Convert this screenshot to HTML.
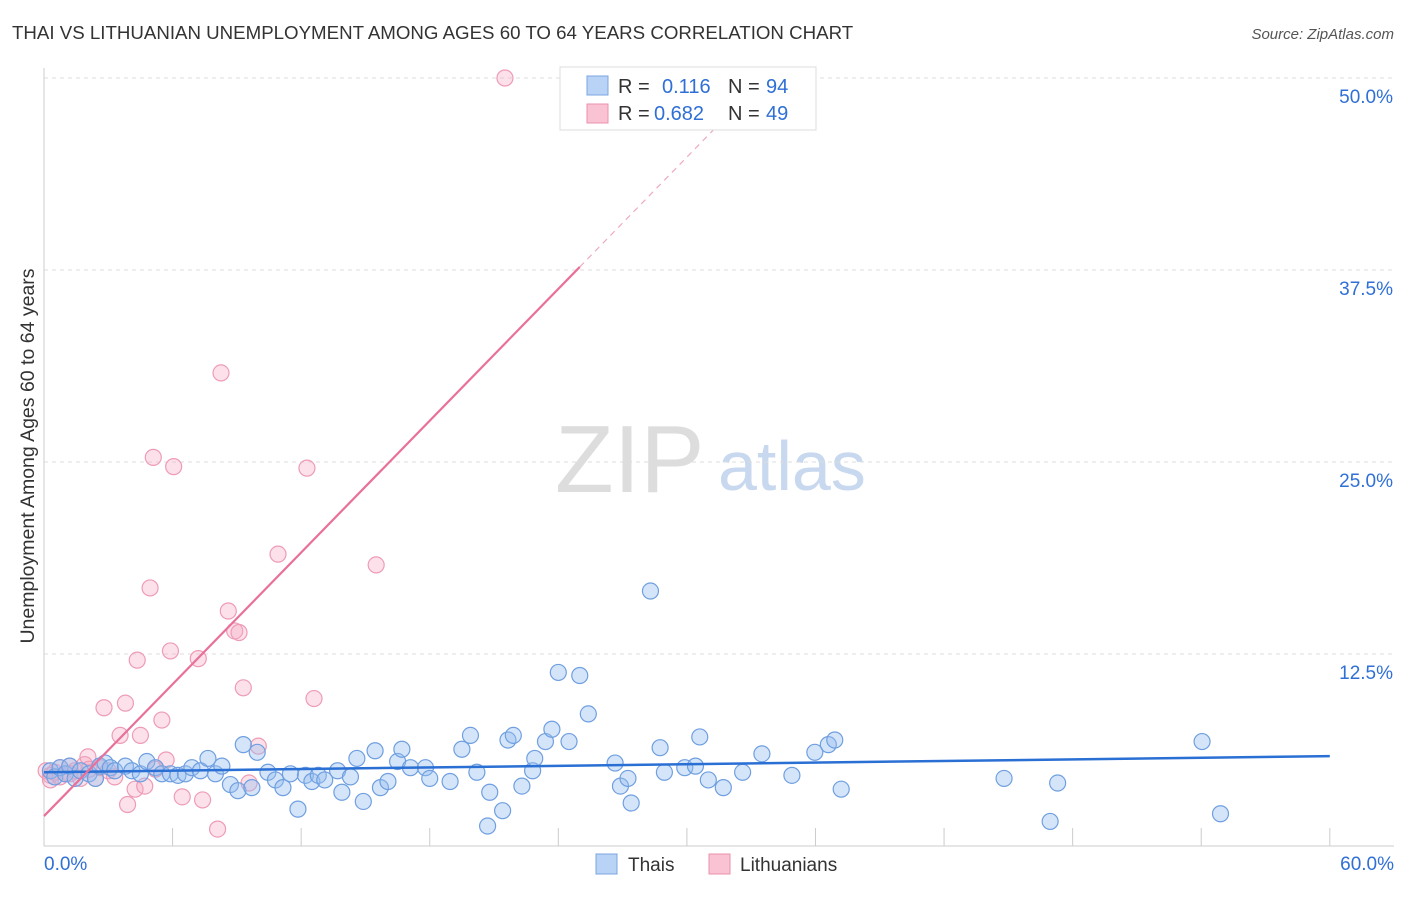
<!DOCTYPE html>
<html><head><meta charset="utf-8"><style>
body{margin:0;background:#fff;font-family:"Liberation Sans",sans-serif;}
svg text{font-family:"Liberation Sans",sans-serif;}
</style></head><body>
<svg id="chart" width="1406" height="892">
<text x="12" y="39" font-size="18.7" fill="#333">THAI VS LITHUANIAN UNEMPLOYMENT AMONG AGES 60 TO 64 YEARS CORRELATION CHART</text>
<text x="1394" y="39" font-size="15" fill="#555" font-style="italic" text-anchor="end">Source: ZipAtlas.com</text>
<text x="34" y="456" font-size="19.5" fill="#333" text-anchor="middle" transform="rotate(-90 34 456)">Unemployment Among Ages 60 to 64 years</text>
<text x="555" y="492" font-size="96" fill="#ddd" font-family="Liberation Serif">ZIP</text>
<text x="718" y="490" font-size="70" fill="#c8d8ee">atlas</text>
<g id="grid"></g><g id="pts"></g><g id="lines"></g>
<g>
<rect x="560" y="67" width="256" height="63" fill="#fff" stroke="#ddd"/>
<rect x="587" y="76" width="21" height="19" fill="#b8d3f5" stroke="#7aa6e0"/>
<rect x="587" y="104" width="21" height="19" fill="#f9c3d3" stroke="#ec92ae"/>
<text x="618" y="93" font-size="20" fill="#333">R = </text><text x="662" y="93" font-size="20" fill="#2f6fd6">0.116</text>
<text x="728" y="93" font-size="20" fill="#333">N = </text><text x="766" y="93" font-size="20" fill="#2f6fd6">94</text>
<text x="618" y="120" font-size="20" fill="#333">R = </text><text x="654" y="120" font-size="20" fill="#2f6fd6">0.682</text>
<text x="728" y="120" font-size="20" fill="#333">N = </text><text x="766" y="120" font-size="20" fill="#2f6fd6">49</text>
</g>
<g>
<rect x="596" y="854" width="21" height="20" fill="#b8d3f5" stroke="#7aa6e0"/>
<text x="628" y="871" font-size="19" fill="#333">Thais</text>
<rect x="709" y="854" width="21" height="20" fill="#f9c3d3" stroke="#ec92ae"/>
<text x="740" y="871" font-size="19" fill="#333">Lithuanians</text>
</g>
</svg>
<script>
const yTicks=[12.5,25,37.5,50];
const yTickLabels=["12.5%","25.0%","37.5%","50.0%"];
const thaiX=[0.3,0.5,0.75,1,1.2,1.45,1.7,2.1,2.4,2.6,2.85,3.1,3.3,3.8,4.1,4.5,4.8,5.2,5.5,5.9,6.25,6.6,6.9,7.3,7.65,8,8.3,8.7,9.05,9.3,9.7,9.95,10.45,10.8,11.15,11.5,11.85,12.2,12.5,12.8,13.1,13.7,13.9,14.3,14.6,14.9,15.45,15.7,16.05,16.5,16.7,17.1,17.8,18,18.95,19.5,19.9,20.2,20.8,21.4,21.65,21.9,22.3,22.8,22.9,23.4,23.7,24,24.5,25,25.4,26.65,26.9,27.25,27.4,28.3,28.75,28.95,29.9,30.4,30.6,31,31.7,32.6,33.5,34.9,35.97,36.6,36.9,37.2,44.8,46.95,47.3,54.04,54.9,20.7];
const thaiY=[4.9,4.5,5.1,4.7,5.2,4.4,4.9,4.7,4.4,5.2,5.4,5.1,4.9,5.2,4.9,4.7,5.5,5.1,4.7,4.7,4.6,4.7,5.1,4.9,5.7,4.7,5.2,4.0,3.6,6.6,3.8,6.1,4.8,4.3,3.8,4.7,2.4,4.6,4.2,4.6,4.3,4.9,3.5,4.5,5.7,2.9,6.2,3.8,4.2,5.5,6.3,5.1,5.1,4.4,4.2,6.3,7.2,4.8,3.5,2.3,6.9,7.2,3.9,4.9,5.7,6.8,7.6,11.3,6.8,11.1,8.6,5.4,3.9,4.4,2.8,16.6,6.4,4.8,5.1,5.2,7.1,4.3,3.8,4.8,6.0,4.6,6.1,6.6,6.9,3.7,4.4,1.6,4.1,6.8,2.1,1.3];
const lithX=[0.1,0.3,0.5,0.75,1,1.2,1.45,1.7,1.9,2.05,2.4,2.6,2.8,3,3.3,3.55,3.8,3.9,4.25,4.35,4.5,4.7,4.95,5.1,5.2,5.5,5.7,5.9,6.05,6.45,7.2,7.4,8.1,8.26,8.6,8.9,9.1,9.3,9.57,10,10.92,12.27,12.6,15.5,21.51,0.3,0.75,1.2,2.1];
const lithY=[4.9,4.6,4.8,5.1,4.7,5.2,4.9,4.4,5.3,5.8,4.4,5.1,9.0,4.9,4.5,7.2,9.3,2.7,3.7,12.1,7.2,3.9,16.8,25.3,5.0,8.2,5.6,12.7,24.7,3.2,12.2,3.0,1.1,30.8,15.3,14.0,13.9,10.3,4.1,6.5,19.0,24.6,9.6,18.3,50.0,4.3,4.5,4.7,5.0];
const thaiTrend=[4.8,5.85];
const lithTrend=[1.95,37.7];
const xScale=v=>44+v*21.43, yScale=v=>846-v*15.36;
const NS="http://www.w3.org/2000/svg";
function mk(tag,attrs,parent){const e=document.createElementNS(NS,tag);for(const k in attrs)e.setAttribute(k,attrs[k]);parent.appendChild(e);return e;}
const grid=document.getElementById('grid'),pts=document.getElementById('pts'),lines=document.getElementById('lines');
yTicks.forEach((t,i)=>{
 const g=mk('line',{x1:44,x2:1394,y1:yScale(t),y2:yScale(t),stroke:'#ddd','stroke-dasharray':'4,4'},grid);
 
 
 const tx=mk('text',{x:1393,y:yScale(t)+25,'font-size':19,fill:'#2f6fd6','text-anchor':'end'},grid);
 tx.textContent=yTickLabels[i];
 
 
});
const ax=mk('line',{x1:44,x2:44,y1:68,y2:846,stroke:'#ccc'},grid);


const bx=mk('line',{x1:44,x2:1394,y1:846,y2:846,stroke:'#ccc'},grid);


for(let i=0;i<=10;i++){const tk=mk('line',{x1:xScale(i*6),x2:xScale(i*6),y1:828,y2:846,stroke:'#ccc'},grid);
 
 }
const l0=mk('text',{x:44,y:870,'font-size':19,fill:'#2f6fd6'},grid);l0.textContent='0.0%';


const l1=mk('text',{x:1394,y:870,'font-size':19,fill:'#2f6fd6','text-anchor':'end'},grid);l1.textContent='60.0%';


lithX.forEach((x,i)=>{const c=mk('circle',{cx:xScale(x),cy:yScale(lithY[i]),r:8,fill:'rgba(246,170,195,0.35)',stroke:'#ee9bb6','stroke-width':1.2},pts);
 
 });
thaiX.forEach((x,i)=>{const c=mk('circle',{cx:xScale(x),cy:yScale(thaiY[i]),r:8,fill:'rgba(150,190,240,0.4)',stroke:'#6f9fe0','stroke-width':1.2},pts);
 
 });
const bt=mk('line',{x1:xScale(0),y1:yScale(thaiTrend[0]),x2:xScale(60),y2:yScale(thaiTrend[1]),stroke:'#2a6fd4','stroke-width':2.5},lines);


const slope=(lithTrend[1]-lithTrend[0])/25;
const pt=mk('line',{x1:xScale(0),y1:yScale(lithTrend[0]),x2:xScale(25),y2:yScale(lithTrend[1]),stroke:'#e8709a','stroke-width':2.2},lines);


const pd=mk('line',{x1:xScale(25),y1:yScale(lithTrend[1]),x2:xScale(31.5),y2:yScale(lithTrend[0]+slope*31.5),stroke:'#eeaac0','stroke-width':1.2,'stroke-dasharray':'6,5'},lines);


</script>
</body></html>
